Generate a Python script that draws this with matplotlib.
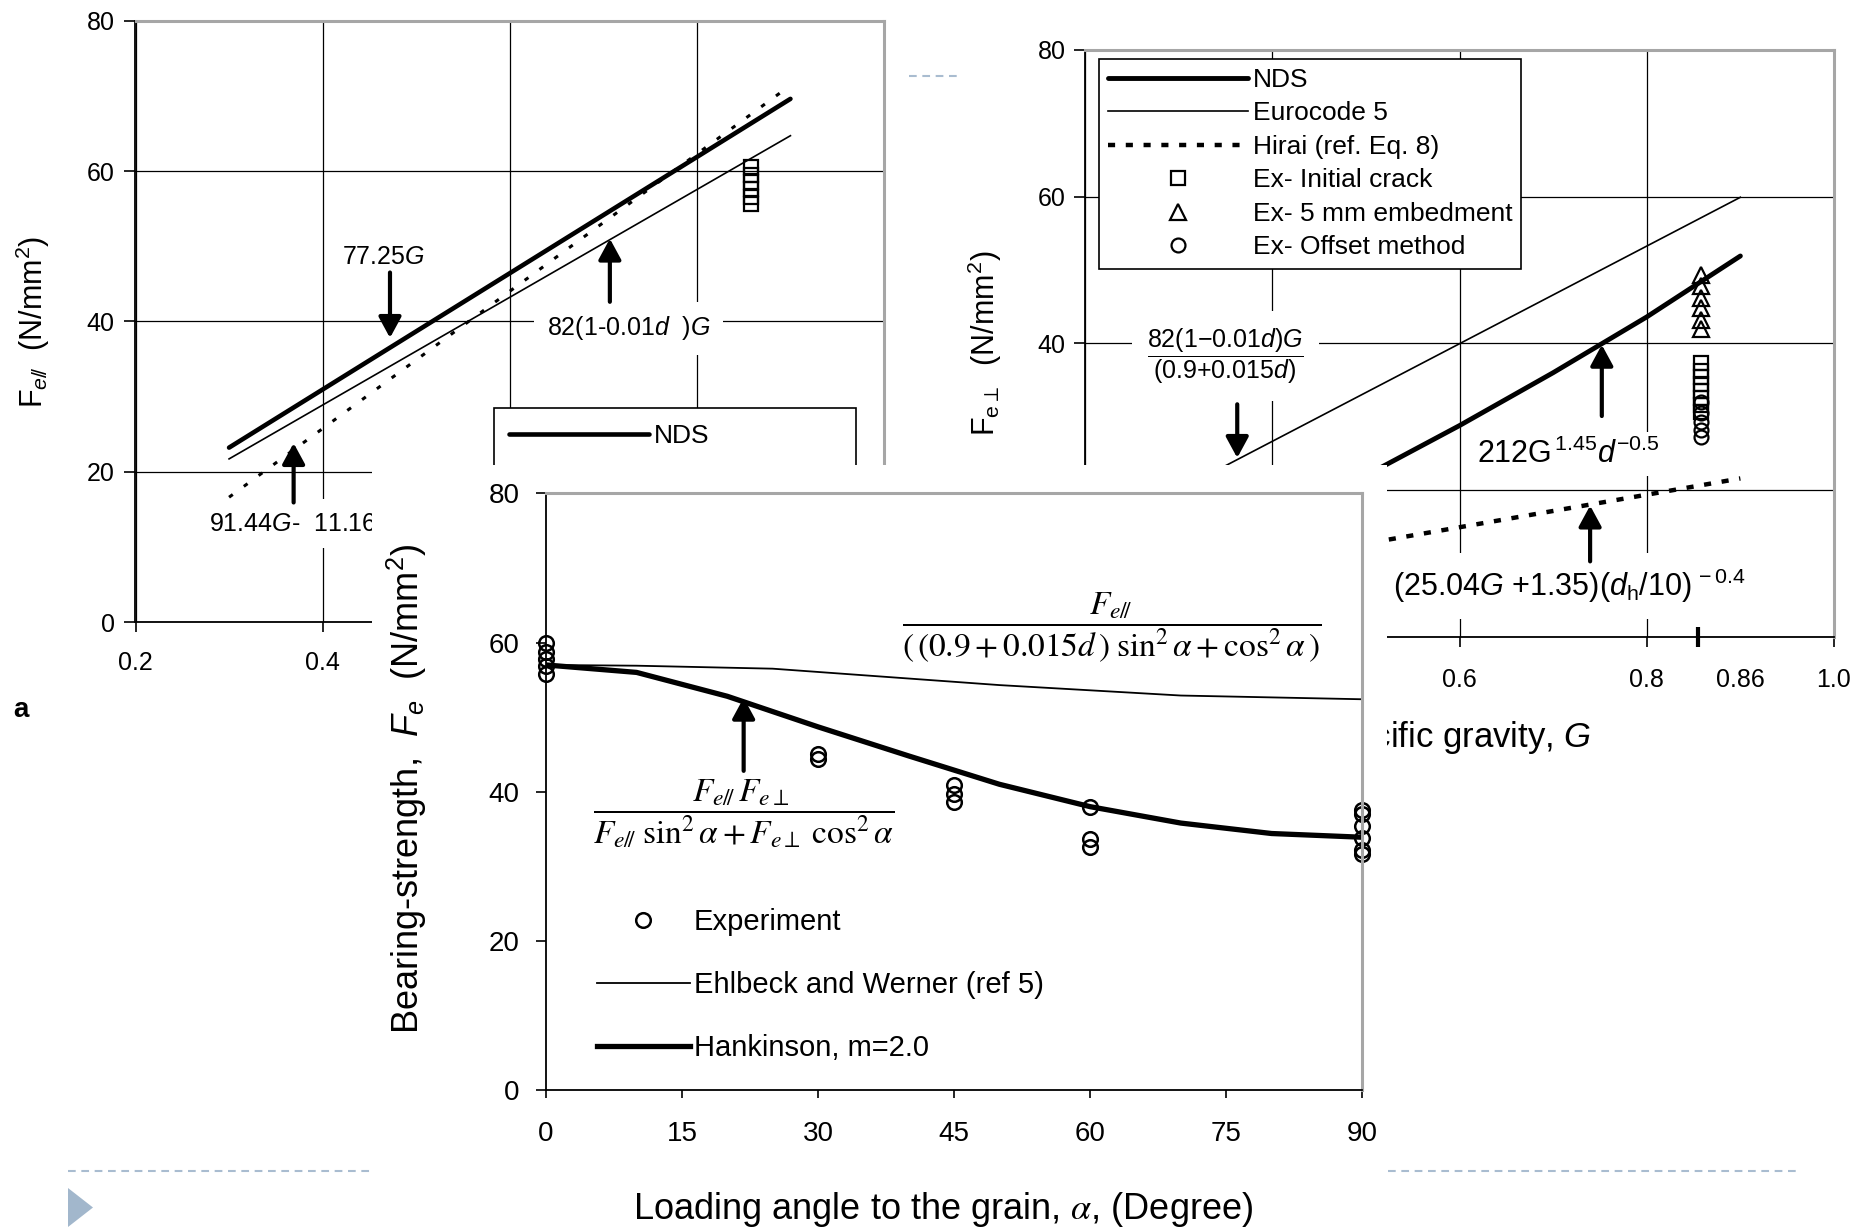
import matplotlib
matplotlib.use('Agg')
import matplotlib.pyplot as plt
from matplotlib.patches import Rectangle, Polygon
from matplotlib.lines import Line2D

plt.rcParams['font.family'] = ['Liberation Sans', 'DejaVu Sans']
plt.rcParams['mathtext.fontset'] = 'custom'
plt.rcParams['mathtext.rm'] = 'Liberation Sans'
plt.rcParams['mathtext.it'] = 'Liberation Sans:italic'
plt.rcParams['mathtext.bf'] = 'Liberation Sans:bold'

# ---------------- data ----------------
y_ticks = [0, 20, 40, 60, 80]
g_ticks = [0.2, 0.4, 0.6, 0.8, 1.0]
# only the tick labels that are not covered by the overlaid panel
a_xticklabels = ['0.2', '0.4', '', '', '']
a_yticklabels = ['0', '20', '40', '60', '80']
b_xticklabels = ['', '', '0.6', '0.8', '1.0']
b_yticklabels = ['', '', '40', '60', '80']

# panel a : parallel to grain
a_G = [0.3, 0.9]
a_nds = [23.2, 69.6]        # 77.25G
a_euro = [21.7, 64.7]       # 82(1-0.01d)G
a_hirai = [16.6, 71.4]      # 91.44G - 11.16
a_ex_G = 0.858
a_ex_crack = [60.5, 59.5, 58.5, 57.6, 56.6, 55.6]

# panel b : perpendicular to grain
b_G = [0.3, 0.9]
b_nds_G = [0.3, 0.4, 0.5, 0.6, 0.7, 0.8, 0.9]
b_nds = [10.5, 15.9, 22.0, 28.8, 36.0, 43.6, 51.9]
b_euro = [20.0, 59.9]
b_hirai = [8.3, 21.6]
b_ex_G = 0.858
b_ex_crack = [37.3, 36.3, 35.4, 34.4, 33.5, 32.5, 31.6, 30.7]
b_ex_5mm = [49.3, 47.8, 46.2, 44.8, 43.2, 42.0]
b_ex_offset = [32.0, 30.5, 29.3, 28.2, 27.2]

# panel c : loading angle
c_ticks = [0, 15, 30, 45, 60, 75, 90]
c_ticklabels = ['0', '15', '30', '45', '60', '75', '90']
c_yticklabels = ['0', '20', '40', '60', '80']
c_ew_ang = [0, 10, 25, 50, 70, 90]
c_ew = [57.0, 56.9, 56.5, 54.3, 52.9, 52.4]
c_hk_ang = [0, 10, 20, 30, 40, 50, 60, 70, 80, 90]
c_hk = [57.0, 56.0, 52.8, 48.7, 44.8, 41.0, 38.0, 35.8, 34.4, 33.9]
c_exp_ang = [0, 0, 0, 0, 0, 30, 30, 45, 45, 45, 60, 60, 60, 90, 90, 90, 90, 90, 90]
c_exp = [60.0, 58.8, 57.8, 56.8, 55.8, 45.1, 44.4, 40.9, 39.7, 38.6,
         38.0, 33.6, 32.6, 37.6, 37.0, 35.4, 33.8, 32.2, 31.6]

# ---------------- layout helpers ----------------
W, H = 1865, 1230
fig = plt.figure(figsize=(W / 100, H / 100), dpi=100)
fig.patch.set_facecolor('white')


def rect(l, t, r, b):
    return [l / W, 1 - b / H, (r - l) / W, (b - t) / H]


def style(ax, xt, xtl, ytl, xlim, fs, ylen, xlen, ypad, xpad):
    ax.set_xlim(xlim)
    ax.set_ylim(0, 80)
    ax.set_xticks(xt)
    ax.set_xticklabels(xtl)
    ax.set_yticks(y_ticks)
    ax.set_yticklabels(ytl)
    ax.tick_params(axis='y', direction='out', length=ylen, width=1.2, pad=ypad, labelsize=fs)
    ax.tick_params(axis='x', direction='out', length=xlen, width=1.2, pad=xpad, labelsize=fs)
    for s in ['left', 'bottom']:
        ax.spines[s].set_color('black')
        ax.spines[s].set_linewidth(1.3)
    for s in ['top', 'right']:
        ax.spines[s].set_color('#a6a6a6')
        ax.spines[s].set_linewidth(2.2)


def arrow(ax, tail, tip):
    ax.annotate('', xy=tip, xytext=tail,
                arrowprops=dict(arrowstyle='-|>,head_length=0.7,head_width=0.38',
                                lw=3.0, color='black', shrinkA=0, shrinkB=0,
                                mutation_scale=18))


white_box = dict(boxstyle='square,pad=0.5', fc='white', ec='none')
leg_kw = dict(loc='upper left', borderaxespad=0, fontsize=19, handlelength=5.3,
              handletextpad=0.18, fancybox=False, framealpha=1, edgecolor='black')

# ---------------- panel a ----------------
axA = fig.add_axes(rect(135.5, 20.7, 884, 622), zorder=0)
style(axA, g_ticks, a_xticklabels, a_yticklabels, (0.2, 1.0), 18, 8, 7, 7, 14)
axA.grid(True, color='black', lw=0.9)
axA.set_axisbelow(True)
lA1, = axA.plot(a_G, a_nds, color='black', lw=3.3, solid_capstyle='round')
lA2, = axA.plot(a_G, a_euro, color='black', lw=1.2)
lA3, = axA.plot(a_G, a_hirai, color='black', lw=2.2, dashes=(1.5, 4.5))
lA4, = axA.plot([a_ex_G] * len(a_ex_crack), a_ex_crack, ls='none', marker='s',
                ms=10, mfc='none', mec='black', mew=1.6)
axA.set_ylabel('F$_{e/\\!/}$  (N/mm$^2$)', fontsize=22, va='center')
axA.yaxis.set_label_coords(-0.137, 0.5)
axA.text(0.465, 48.6, '77.25$G$', fontsize=18, ha='center', va='center')
arrow(axA, (0.472, 46.5), (0.472, 37.8))
axA.text(0.727, 39.1, '82(1-0.01$d$  )$G$', fontsize=18, ha='center', va='center', bbox=white_box)
arrow(axA, (0.707, 42.6), (0.707, 51.0))
axA.text(0.368, 13.1, '91.44$G$-  11.16', fontsize=18, ha='center', va='center', bbox=white_box)
arrow(axA, (0.369, 15.9), (0.369, 23.8))
legA = axA.legend([lA1, lA2, lA3, lA4], ['NDS', 'Eurocode 5', 'Hirai (ref. Eq. 8)', 'Ex- Initial crack'],
                  bbox_to_anchor=(0.4784, 0.3559), borderpad=0.6, labelspacing=0.8, **leg_kw)
legA.get_frame().set_linewidth(1.2)

# ---------------- panel b ----------------
axB = fig.add_axes(rect(1085, 49.7, 1834, 637), zorder=0)
style(axB, g_ticks, b_xticklabels, b_yticklabels, (0.2, 1.0), 18, 8, 7, 6, 15)
axB.grid(True, which='major', color='black', lw=0.9)
axB.set_axisbelow(True)
axB.set_xticks([0.855], minor=True)
axB.tick_params(axis='x', which='minor', direction='inout', length=14, width=3)
axB.annotate('0.86', xy=(0.9, 0), xycoords=('data', 'axes fraction'), xytext=(0, -22),
             textcoords='offset points', ha='center', va='top', fontsize=18)
lB1, = axB.plot(b_nds_G, b_nds, color='black', lw=3.5, solid_capstyle='round')
lB2, = axB.plot(b_G, b_euro, color='black', lw=1.2)
lB3, = axB.plot(b_G, b_hirai, color='black', lw=3.2, dashes=(1.6, 2.4))
lB6, = axB.plot([b_ex_G] * len(b_ex_offset), b_ex_offset, ls='none', marker='o',
                ms=10, mfc='none', mec='black', mew=1.6)
lB4, = axB.plot([b_ex_G] * len(b_ex_crack), b_ex_crack, ls='none', marker='s',
                ms=10, mfc='none', mec='black', mew=1.6)
lB5, = axB.plot([b_ex_G] * len(b_ex_5mm), b_ex_5mm, ls='none', marker='^',
                ms=11, mfc='none', mec='black', mew=1.6)
axB.set_ylabel('F$_{\\mathrm{e}\\perp}$  (N/mm$^2$)', fontsize=22, va='center')
axB.yaxis.set_label_coords(-0.1335, 0.5)
axB.set_xlabel('Specific gravity, $G$', fontsize=25, va='center')
axB.xaxis.set_label_coords(0.4886, -0.1703)
axB.text(0.350, 38.3, r'$\dfrac{\mathit{82(1{-}0.01d)G}}{(0.9{+}0.015\mathit{d})}$',
         fontsize=18, ha='center', va='center', bbox=dict(boxstyle='square,pad=0.6', fc='white', ec='none'))
arrow(axB, (0.3626, 31.7), (0.3626, 24.4))
axB.text(0.716, 24.9, '212G$^{\\,1.45}$$d^{-0.5}$', fontsize=22, ha='center', va='center',
         bbox=dict(boxstyle='square,pad=0.2', fc='white', ec='none'))
arrow(axB, (0.752, 30.1), (0.752, 39.8))
axB.text(0.7175, 6.9, '(25.04$G$ +1.35)($d_{\\mathrm{h}}\\mathit{/10)}$$^{\\,-0.4}$', fontsize=22,
         ha='center', va='center', bbox=dict(boxstyle='square,pad=0.45', fc='white', ec='none'))
arrow(axB, (0.7395, 10.3), (0.7395, 17.9))
legB = axB.legend([lB1, lB2, lB3, lB4, lB5, lB6],
                  ['NDS', 'Eurocode 5', 'Hirai (ref. Eq. 8)', 'Ex- Initial crack',
                   'Ex- 5 mm embedment', 'Ex- Offset method'],
                  bbox_to_anchor=(0.0184, 0.9847), borderpad=0.35, labelspacing=0.36, **leg_kw)
legB.get_frame().set_linewidth(1.2)

# ---------------- slide decorations ----------------
fig.add_artist(Line2D([68 / W, 1796 / W], [1 - 1171 / H] * 2, transform=fig.transFigure,
                      color='#a9bcd0', lw=1.5, dashes=(3.7, 2.7), zorder=0.5))
fig.add_artist(Line2D([909 / W, 957 / W], [1 - 76 / H] * 2, transform=fig.transFigure,
                      color='#a9bcd0', lw=1.5, dashes=(3.7, 2.7), zorder=0.5))
fig.add_artist(Polygon([(68 / W, 1 - 1188 / H), (68 / W, 1 - 1227 / H), (93 / W, 1 - 1207.5 / H)],
                       closed=True, transform=fig.transFigure, fc='#a2b7cc', ec='none', zorder=0.5))
fig.text(21 / W, 1 - 710 / H, 'a', fontsize=20, fontweight='bold', va='center', ha='center')

# white backing of the overlaid panel
fig.add_artist(Rectangle((372 / W, 0), (1387 - 372) / W, (1230 - 465) / H, transform=fig.transFigure,
                         fc='white', ec='none', zorder=1))

# ---------------- panel c ----------------
axC = fig.add_axes(rect(545.9, 493.4, 1362.3, 1090.1), zorder=2)
style(axC, c_ticks, c_ticklabels, c_yticklabels, (0, 90), 20, 7, 6, 12, 16)
lC2, = axC.plot(c_ew_ang, c_ew, color='black', lw=1.3)
lC3, = axC.plot(c_hk_ang, c_hk, color='black', lw=3.8, solid_joinstyle='round')
lC1, = axC.plot(c_exp_ang, c_exp, ls='none', marker='o', ms=10.5, mfc='none', mec='black',
                mew=1.8, clip_on=False)
axC.set_ylabel('Bearing-strength,  $F_e$  (N/mm$^2$)', fontsize=26, va='center')
axC.yaxis.set_label_coords(-0.1704, 0.505)
axC.set_xlabel('Loading angle to the grain, $\\alpha$, (Degree)', fontsize=26, va='center',
               math_fontfamily='stix')
axC.xaxis.set_label_coords(0.4867, -0.2003)
axC.text(62.4, 62.1, r'$\dfrac{F_{e/\!/}}{(\,(0.9+0.015d\,)\;\sin^{2}\alpha+\cos^{2}\alpha\,)}$',
         fontsize=24, ha='center', va='center', math_fontfamily='stix')
axC.text(21.8, 37.1, r'$\dfrac{F_{e/\!/}\,F_{e\perp}}{F_{e/\!/}\;\sin^{2}\alpha+F_{e\perp}\;\cos^{2}\alpha}$',
         fontsize=24, ha='center', va='center', math_fontfamily='stix')
arrow(axC, (21.8, 42.8), (21.8, 52.6))
axC.legend([lC1, lC2, lC3], ['Experiment', 'Ehlbeck and Werner (ref 5)', 'Hankinson, m=2.0'],
           loc='upper left', bbox_to_anchor=(0.0626, 0.3045), borderaxespad=0, borderpad=0,
           frameon=False, fontsize=21, handlelength=3.18, handletextpad=0.14, labelspacing=1.2)

fig.savefig('out.png', dpi=100, facecolor='white')
